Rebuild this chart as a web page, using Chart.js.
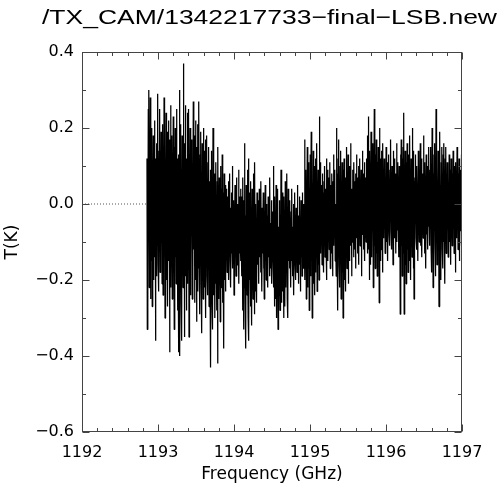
<!DOCTYPE html>
<html>
<head>
<meta charset="utf-8">
<script src="https://cdn.jsdelivr.net/npm/chart.js@4/dist/chart.umd.min.js"></script>
<style>
html,body{margin:0;padding:0;background:#fff;}
#c{display:block;}
</style>
</head>
<body>
<canvas id="c" width="500" height="487"></canvas>
<script>
// ---- text ----
const chartTitle = "/TX_CAM/1342217733\u2212final\u2212LSB.new";
const xTitle = "Frequency (GHz)";
const yTitle = "T(K)";

// ---- axes ----
const xMin = 1192, xMax = 1197;
const yMin = -0.6, yMax = 0.4;
const xMajorStep = 1, xMinorStep = 0.2;
const yMajorStep = 0.2, yMinorStep = 0.1;

// ---- spectrum: first and last channel frequency (GHz), uniform channels ----
const freqStart = 1192.855;
const freqEnd = 1197.0;

// ---- T(K) values, in channel order ----
const tSeg1 = [0.12,-0.33,0.05,-0.18,0.25,-0.05,0.30,-0.22,0.08,-0.12,0.28,-0.25,0.15,0.02,-0.15,0.20,-0.27,0.10,-0.08,0.18,-0.20,0.04,-0.10,0.22,-0.14,0.06,-0.36,0.12,-0.04,0.16,-0.19,0.09,-0.11,0.29,-0.16,0.03,-0.23,0.14,-0.06,0.25,-0.18,0.07,-0.13,0.19,-0.09,0.11,-0.21,0.05];
const tSeg1b = [0.21,-0.24,0.10,-0.17,0.28,-0.08,0.16,-0.30,0.05,-0.12,0.24,-0.20,0.13,-0.04,0.19,-0.27,0.09,-0.15,0.22,-0.06,0.14,-0.39,0.17,-0.10,0.26,-0.22,0.03,-0.13,0.18,-0.25,0.11,-0.07,0.23,-0.18,0.06,-0.33,0.15,-0.09,0.20,-0.14,0.08,-0.21,0.25,-0.11,0.12,-0.28,0.04,-0.16];
const tSeg2 = [-0.39,0.13,-0.17,0.30,-0.40,0.08,-0.12,0.21,-0.26,0.04,-0.36,0.18,-0.07,0.14,-0.22,0.37,-0.15,0.02,-0.35,0.16,-0.09,0.26,-0.19,0.06,-0.28,0.12,-0.05,0.24,-0.21,0.10,-0.14,0.25,-0.35,0.03,-0.11,0.20,-0.24,0.08,-0.16,0.17,-0.06,0.13,-0.25,0.01,-0.18,0.27,-0.12,0.07];
const tSeg2b = [0.18,-0.26,0.09,-0.14,0.22,-0.20,0.05,-0.31,0.15,-0.08,0.21,-0.23,0.02,-0.17,0.27,-0.12,0.10,-0.29,0.13,-0.05,0.19,-0.21,0.07,-0.34,0.16,-0.10,0.12,-0.25,0.20,-0.15,0.04,-0.22,0.14,-0.09,0.17,-0.30,0.08,-0.13,0.18,-0.19,0.03,-0.24,0.11,-0.07,0.15,-0.27,0.06,-0.12];
const tSeg3 = [-0.20,0.09,-0.43,0.02,-0.15,0.14,-0.27,-0.03,-0.33,0.20,-0.18,0.05,-0.24,0.08,-0.11,-0.30,0.03,-0.21,0.11,-0.16,-0.02,-0.28,0.06,-0.42,0.15,-0.13,-0.04,-0.25,0.07,-0.19,0.01,-0.31,0.10,-0.09,-0.22,0.04,-0.17,0.13,-0.26,-0.06,-0.14,0.03,-0.38,0.08,-0.12,-0.20,0.05,-0.23];
const tSeg3b = [-0.05,-0.14,0.04,-0.10,-0.18,0.02,-0.07,-0.12,0.06,-0.20,-0.03,-0.09,0.08,-0.15,-0.01,-0.22,-0.06,0.03,-0.13,-0.08,0.10,-0.17,-0.04,-0.11,0.01,-0.24,-0.02,-0.09,0.05,-0.14,-0.06,-0.19,0.07,-0.10,-0.03,-0.16,0.00,-0.12,-0.07,0.09,-0.21,-0.05,-0.13,0.02,-0.09,-0.15,0.04,-0.11];
const tSeg4 = [0.02,-0.19,-0.06,-0.28,0.07,-0.14,-0.33,0.01,-0.22,0.16,-0.11,-0.26,-0.03,-0.38,0.05,-0.17,-0.08,-0.24,0.09,-0.15,-0.30,0.12,-0.36,-0.05,-0.20,0.03,-0.12,-0.27,0.06,-0.18,-0.02,-0.32,0.04,-0.21,-0.09,-0.25,0.08,-0.16,-0.04,-0.29,0.11,-0.13,-0.23,0.00,-0.19,-0.07,-0.26,0.03];
const tSeg4b = [-0.08,-0.16,0.01,-0.12,-0.05,-0.21,0.04,-0.09,-0.14,-0.02,-0.18,0.06,-0.11,-0.06,-0.23,-0.01,-0.13,-0.08,0.03,-0.17,-0.10,-0.25,-0.04,-0.12,0.05,-0.15,-0.07,-0.20,0.00,-0.11,-0.16,-0.03,-0.22,0.02,-0.09,-0.14,-0.06,-0.19,0.07,-0.12,-0.05,-0.17,-0.10,0.01,-0.21,-0.08,-0.13,-0.02];
const tSeg5 = [-0.15,0.10,-0.22,-0.04,-0.27,0.02,-0.18,-0.09,-0.25,0.05,-0.13,-0.30,-0.01,-0.20,0.04,-0.33,-0.11,-0.06,-0.24,0.01,-0.17,-0.28,-0.03,-0.21,0.09,-0.14,-0.26,-0.05,-0.19,0.03,-0.23,-0.10,-0.30,0.02,-0.16,-0.07,-0.27,0.06,-0.12,-0.22,-0.02,-0.18,0.08,-0.25,-0.08,-0.30,0.04,-0.15];
const tSeg5b = [-0.11,-0.04,-0.17,0.01,-0.13,-0.08,-0.22,-0.02,-0.15,0.04,-0.10,-0.19,-0.06,-0.12,0.00,-0.24,-0.07,-0.14,0.03,-0.16,-0.09,-0.20,-0.01,-0.12,-0.05,-0.18,0.05,-0.13,-0.08,-0.21,-0.03,-0.11,0.02,-0.16,-0.06,-0.23,-0.10,0.01,-0.14,-0.04,-0.19,0.03,-0.08,-0.15,-0.11,0.00,-0.17,-0.06];
const tSeg6 = [0.17,-0.20,-0.02,-0.14,0.09,-0.25,0.04,-0.10,0.15,-0.22,-0.05,0.11,-0.17,0.06,-0.28,0.02,-0.12,0.13,-0.19,-0.03,0.19,-0.15,0.07,-0.30,0.01,-0.09,0.14,-0.21,0.05,-0.13,0.10,-0.24,-0.01,0.12,-0.18,0.03,-0.08,0.16,-0.23,0.06,-0.11,0.09,-0.16,0.02,-0.20,0.23,-0.07,0.11];
const tSeg6b = [-0.02,-0.13,0.05,-0.09,0.01,-0.16,0.08,-0.05,-0.11,0.03,-0.18,0.06,-0.07,0.10,-0.14,-0.01,0.04,-0.10,0.12,-0.20,0.00,-0.06,0.09,-0.15,0.02,-0.08,0.07,-0.12,-0.03,0.11,-0.17,0.05,-0.09,0.01,-0.13,0.08,-0.04,-0.19,0.06,-0.07,0.13,-0.11,0.03,-0.05,0.09,-0.15,0.00,-0.08];
const tSeg7 = [-0.19,0.20,-0.04,-0.13,0.08,-0.28,0.12,-0.09,0.17,-0.16,0.03,-0.22,0.10,-0.07,0.14,-0.25,0.01,-0.12,0.11,-0.18,0.06,-0.30,0.09,-0.05,0.12,-0.20,0.02,-0.14,0.07,-0.23,0.04,-0.10,0.15,-0.17,0.00,-0.08,0.13,-0.21,0.05,-0.12,0.10,-0.15,0.08,-0.06,0.16,-0.11,0.04,-0.19];
const tSeg7b = [0.03,-0.10,0.09,-0.06,0.01,-0.14,0.11,-0.03,0.06,-0.12,0.00,-0.17,0.08,-0.05,0.13,-0.09,0.02,-0.13,0.07,-0.02,0.10,-0.16,0.04,-0.07,0.12,-0.11,0.01,-0.04,0.09,-0.19,0.05,-0.08,0.14,-0.03,0.02,-0.12,0.08,-0.06,0.11,-0.15,0.03,-0.01,0.07,-0.10,0.12,-0.05,0.00,-0.13];
const tSeg8 = [0.18,-0.07,0.23,-0.12,0.05,-0.20,0.14,-0.03,0.10,-0.16,0.19,-0.09,0.07,-0.14,0.16,-0.05,0.12,-0.22,0.09,-0.01,0.25,-0.11,0.04,-0.17,0.13,-0.06,0.17,-0.13,0.08,-0.19,0.11,-0.02,0.15,-0.10,0.06,-0.26,0.20,-0.08,0.12,-0.15,0.03,-0.12,0.14,-0.04,0.09,-0.18,0.16,-0.07];
const tSeg8b = [0.05,-0.09,0.12,-0.02,0.08,-0.13,0.03,-0.06,0.15,-0.10,0.01,-0.04,0.11,-0.15,0.06,-0.01,0.13,-0.08,0.04,-0.11,0.09,-0.03,0.17,-0.07,0.02,-0.12,0.10,-0.05,0.07,-0.16,0.14,-0.02,0.05,-0.09,0.12,-0.06,0.01,-0.13,0.08,-0.04,0.16,-0.10,0.03,-0.07,0.11,-0.01,0.06,-0.14];
const tSeg9 = [0.10,-0.14,0.04,-0.29,0.13,-0.06,0.17,-0.11,0.08,-0.19,0.12,-0.03,0.15,-0.13,0.24,-0.29,0.06,-0.09,0.14,-0.16,0.02,-0.21,0.11,-0.07,0.16,-0.12,0.05,-0.18,0.13,-0.04,0.09,-0.15,0.18,-0.08,0.03,-0.20,0.12,-0.10,0.07,-0.14,0.20,-0.05,0.10,-0.17,0.14,-0.25,0.06,-0.09];
const tSeg9b = [0.07,-0.05,0.13,-0.09,0.02,-0.12,0.10,-0.03,0.05,-0.15,0.14,-0.07,0.01,-0.10,0.09,-0.02,0.16,-0.11,0.04,-0.06,0.12,-0.14,0.03,-0.04,0.08,-0.09,0.18,-0.01,0.06,-0.13,0.11,-0.05,0.02,-0.17,0.13,-0.08,0.05,-0.03,0.10,-0.12,0.07,-0.06,0.15,-0.02,0.01,-0.11,0.09,-0.04];
const tSeg10 = [0.15,-0.12,0.04,-0.18,0.20,-0.07,0.11,-0.22,0.08,-0.14,0.13,-0.04,0.16,-0.11,0.06,-0.19,0.25,-0.09,0.10,-0.16,0.02,-0.13,0.14,-0.06,0.09,-0.27,0.12,-0.08,0.19,-0.15,0.05,-0.20,0.11,-0.03,0.15,-0.12,0.07,-0.17,0.13,-0.10,0.16,-0.05,0.08,-0.21,0.12,-0.09,0.15,-0.13];
const tSeg10b = [0.04,-0.08,0.11,-0.03,0.07,-0.14,0.02,-0.06,0.13,-0.10,0.05,-0.01,0.09,-0.16,0.12,-0.04,0.00,-0.11,0.08,-0.07,0.14,-0.02,0.03,-0.13,0.10,-0.05,0.06,-0.18,0.11,-0.03,0.01,-0.09,0.15,-0.06,0.04,-0.12,0.08,-0.02,0.12,-0.15,0.05,-0.07,0.09,-0.04,0.02,-0.11,0.13,-0.06];

// ---- dotted zero baseline before the spectrum ----
const baseX = [1192, 1192.855];
const baseY = [0, 0];

// ---- build datasets ----
const tAll = [].concat(tSeg1,tSeg1b,tSeg2,tSeg2b,tSeg3,tSeg3b,tSeg4,tSeg4b,tSeg5,tSeg5b,
                       tSeg6,tSeg6b,tSeg7,tSeg7b,tSeg8,tSeg8b,tSeg9,tSeg9b,tSeg10,tSeg10b);
const stepF = (freqEnd - freqStart) / (tAll.length - 1);
const specData = tAll.map((t, i) => ({x: freqStart + i * stepF, y: t}));
const baseData = baseX.map((x, i) => ({x: x, y: baseY[i]}));

const tickFont = {family: '"DejaVu Sans"', size: 16};
const minus = v => (v < 0 ? '\u2212' : '') + Math.abs(v).toFixed(1);

const framePlugin = {
  id: 'frame',
  afterDraw(chart) {
    const {ctx, chartArea: a, scales} = chart;
    const xs = scales.x, ys = scales.y;
    ctx.save();
    ctx.strokeStyle = '#444';
    ctx.lineWidth = 1;
    const L = Math.round(a.left) + 0.5, R = Math.round(a.right) - 0.5;
    const T = Math.round(a.top) + 0.5, B = Math.round(a.bottom) - 0.5;
    ctx.strokeRect(L, T, R - L, B - T);
    ctx.beginPath();
    const eps = 1e-6;
    for (let v = xMin; v <= xMax + eps; v += xMinorStep) {
      const major = Math.abs(v - Math.round(v / xMajorStep) * xMajorStep) < eps;
      const len = major ? 7 : 3.5;
      const px = Math.round(xs.getPixelForValue(v)) + 0.5;
      ctx.moveTo(px, B); ctx.lineTo(px, B - len);
      ctx.moveTo(px, T); ctx.lineTo(px, T + len);
    }
    for (let v = yMin; v <= yMax + eps; v += yMinorStep) {
      const major = Math.abs(v / yMajorStep - Math.round(v / yMajorStep)) < 1e-4;
      const len = major ? 7 : 3.5;
      const py = Math.round(ys.getPixelForValue(v)) + 0.5;
      ctx.moveTo(L, py); ctx.lineTo(L + len, py);
      ctx.moveTo(R, py); ctx.lineTo(R - len, py);
    }
    ctx.stroke();
    ctx.fillStyle = '#000';
    ctx.font = '21px "Liberation Sans"';
    ctx.textBaseline = 'alphabetic';
    ctx.textAlign = 'left';
    const w = ctx.measureText(chartTitle).width;
    ctx.translate(42, 24);
    ctx.scale(455 / w, 1);
    ctx.fillText(chartTitle, 0, 0);
    ctx.restore();
  }
};

new Chart(document.getElementById('c'), {
  type: 'line',
  data: {
    datasets: [
      {data: specData, borderColor: '#000', borderWidth: 1.25, borderJoinStyle: 'bevel', pointRadius: 0, tension: 0, fill: false},
      {data: baseData, borderColor: '#555', borderWidth: 1, borderDash: [1, 2], pointRadius: 0, tension: 0, fill: false}
    ]
  },
  options: {
    responsive: false,
    animation: false,
    devicePixelRatio: 1,
    layout: {padding: {top: 52, right: 38, left: 0, bottom: 0}},
    plugins: {legend: {display: false}, tooltip: {enabled: false}, title: {display: false}},
    scales: {
      x: {
        type: 'linear', min: xMin, max: xMax,
        grid: {display: false, drawTicks: false},
        border: {display: false},
        ticks: {stepSize: xMajorStep, padding: 11, color: '#000', font: tickFont, maxRotation: 0,
                callback: v => String(v)},
        title: {display: true, text: xTitle, color: '#000', font: {family: '"DejaVu Sans"', size: 17}, padding: {top: 0, bottom: 2}},
        afterFit: s => { s.height = 55; }
      },
      y: {
        type: 'linear', min: yMin, max: yMax,
        grid: {display: false, drawTicks: false},
        border: {display: false},
        ticks: {stepSize: yMajorStep, padding: 8, color: '#000', font: tickFont,
                callback: v => minus(v)},
        title: {display: true, text: yTitle, color: '#000', font: {family: '"DejaVu Sans"', size: 17}, padding: {top: 2, bottom: 0}},
        afterFit: s => { s.width = 82; }
      }
    }
  },
  plugins: [framePlugin]
});
</script>
</body>
</html>
